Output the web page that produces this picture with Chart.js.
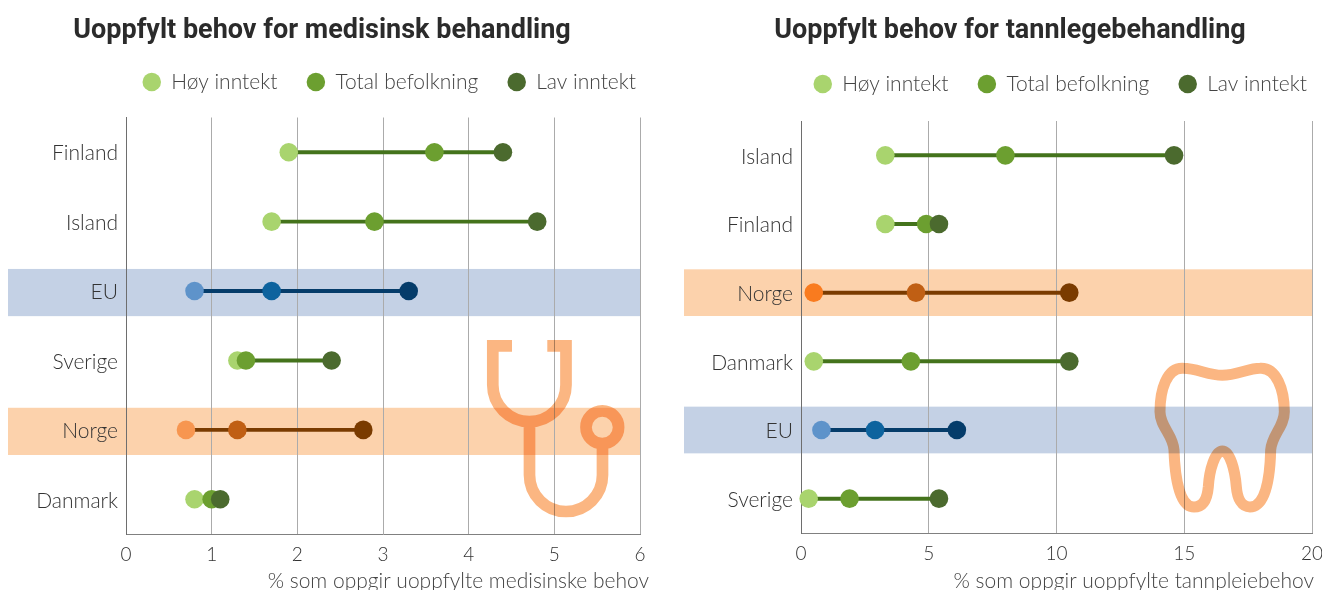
<!DOCTYPE html>
<html lang="no">
<head>
<meta charset="utf-8">
<title>Uoppfylt behov</title>
<script src="https://cdn.jsdelivr.net/npm/chart.js@4"></script>
<style>
html,body{margin:0;padding:0;background:#fff;width:1322px;height:590px;overflow:hidden}
canvas{position:absolute;top:0}
#medCanvas{left:0}
#tannCanvas{left:660px}
</style>
</head>
<body>
<canvas id="medCanvas" width="660" height="590"></canvas>
<canvas id="tannCanvas" width="662" height="590"></canvas>
<script>
// ---------- data ----------
const seriesNames = ['Høy inntekt', 'Total befolkning', 'Lav inntekt'];

const medTitle = 'Uoppfylt behov for medisinsk behandling';
const medAxisTitle = '% som oppgir uoppfylte medisinske behov';
const medCategories = ['Finland', 'Island', 'EU', 'Sverige', 'Norge', 'Danmark'];
const medHigh  = [1.9, 1.7, 0.8, 1.3, 0.7, 0.8];
const medTotal = [3.6, 2.9, 1.7, 1.4, 1.3, 1.0];
const medLow   = [4.4, 4.8, 3.3, 2.4, 2.77, 1.1];
const medTicks = [0, 1, 2, 3, 4, 5, 6];

const tannTitle = 'Uoppfylt behov for tannlegebehandling';
const tannAxisTitle = '% som oppgir uoppfylte tannpleiebehov';
const tannCategories = ['Island', 'Finland', 'Norge', 'Danmark', 'EU', 'Sverige'];
const tannHigh  = [3.3, 3.3, 0.5, 0.5, 0.8, 0.3];
const tannTotal = [8.0, 4.9, 4.5, 4.3, 2.9, 1.9];
const tannLow   = [14.6, 5.4, 10.5, 10.5, 6.1, 5.4];
const tannTicks = [0, 5, 10, 15, 20];

// ---------- styles ----------
const FONT = 'Lato, "Open Sans", sans-serif';
const TITLE_FONT = 'Roboto, "Open Sans", sans-serif';
const themes = {
  green:  {points: ['#A9D46E', '#6C9F30', '#4B6A2E'], line: '#44731C', band: null},
  blue:   {points: ['#5E93CA', '#0D639E', '#053C6A'], line: '#053C6A', band: '#C4D1E5'},
  orange: {points: ['#F79650', '#C05F14', '#7A3B00'], line: '#7A3B00', band: '#FCD2AC'},
  orangeStrong: {points: ['#F97B1F', '#C05F14', '#7A3B00'], line: '#7A3B00', band: '#FCD2AC'}
};
const legendColors = ['#A9D46E', '#6C9F30', '#3D6514'];
const ICON = '#FBB682';

const stethoscope = new Path2D(
  'M512 345.8 H492.8 V385 A36.6 36.6 0 0 0 566 385 V345.8 H547.3 ' +
  'M529.5 420 V475 A36.5 36.5 0 0 0 602.5 475 V443 ' +
  'M618.6 427.3 A16.3 16.3 0 1 1 586 427.3 A16.3 16.3 0 1 1 618.6 427.3 Z');
const tooth = new Path2D(
  'M307 106 C350 106 385 85 420 85 C470 82 493 150 493 215 C493 260 455 285 452 330 ' +
  'C450 420 435 501 390 501 C365 501 352 475 349 440 C345 390 330 333 307 333 ' +
  'C285 333 268 390 265 440 C262 475 250 501 222 501 C180 501 165 420 162 330 ' +
  'C160 285 120 260 120 215 C120 150 140 82 190 85 C230 85 265 106 307 106 Z');

function makeChart(id, cfg) {
  const themesByRow = cfg.rows.map(r => themes[r]);
  const series = [cfg.high, cfg.total, cfg.low];
  const pointSets = series.map((values, s) => ({
    type: 'line',
    label: seriesNames[s],
    data: values,
    showLine: false,
    clip: false,
    order: 3 - s,
    pointStyle: 'circle',
    pointRadius: 9.3,
    pointHoverRadius: 9.3,
    pointBorderWidth: 0,
    backgroundColor: legendColors[s],
    borderColor: legendColors[s],
    pointBackgroundColor: themesByRow.map(t => t.points[s])
  }));
  const connector = {
    type: 'bar',
    label: 'spenn',
    data: cfg.high.map((h, i) => [h, cfg.low[i]]),
    backgroundColor: themesByRow.map(t => t.line),
    barThickness: 3.3,
    order: 4
  };

  const plugin = {
    id: 'decor',
    afterLayout(chart) {
      chart.legend.top += cfg.legendShift;
      chart.legend.right += cfg.legendOver;
    },
    beforeDraw(chart) {
      const y = chart.scales.y, ctx = chart.ctx;
      const step = (y.bottom - y.top) / cfg.categories.length;
      ctx.save();
      themesByRow.forEach((t, i) => {
        if (!t.band) return;
        const c = y.getPixelForValue(i) + cfg.bandOffset;
        ctx.fillStyle = t.band;
        ctx.fillRect(cfg.bandLeft, c - step * 0.34, chart.chartArea.right + 1 - cfg.bandLeft, step * 0.68);
      });
      ctx.restore();
    },
    afterDraw(chart) {
      const ctx = chart.ctx;
      ctx.save();
      ctx.globalCompositeOperation = 'multiply';
      ctx.strokeStyle = ICON;
      cfg.drawIcon(ctx);
      ctx.restore();
    }
  };

  return new Chart(document.getElementById(id), {
    type: 'bar',
    data: {labels: cfg.categories, datasets: [...pointSets, connector]},
    plugins: [plugin],
    options: {
      indexAxis: 'y',
      responsive: false,
      animation: false,
      events: [],
      layout: {padding: {top: 0, left: cfg.padLeft, right: cfg.padRight, bottom: 0}},
      plugins: {
        tooltip: {enabled: false},
        title: {
          display: true,
          text: cfg.title,
          color: '#2B2B2B',
          font: {family: TITLE_FONT, size: 27, weight: '700', lineHeight: 1.2},
          padding: {top: 15.5, bottom: cfg.titleGap}
        },
        legend: {
          display: true,
          position: 'top',
          align: 'end',
          labels: {
            usePointStyle: true,
            boxHeight: 13.1,
            boxWidth: 18,
            padding: 29.5,
            color: '#444',
            font: {family: FONT, size: 21, weight: '300'},
            filter: item => item.text !== 'spenn',
            sort: (a, b) => a.datasetIndex - b.datasetIndex
          }
        }
      },
      scales: {
        x: {
          type: 'linear',
          min: cfg.ticks[0],
          max: cfg.ticks[cfg.ticks.length - 1],
          afterBuildTicks(s) { s.ticks = cfg.ticks.map(v => ({value: v})); },
          afterFit(s) {
            s.height = cfg.xHeight;
            s.paddingLeft = 0;
            s.paddingRight = 0;
            const draw = s.drawTitle;
            if (!s._shifted) {
              s._shifted = true;
              s.drawTitle = function () {
                const r = this.right;
                this.right = r + cfg.titleOver;
                draw.call(this);
                this.right = r;
              };
            }
          },
          grid: {display: true, color: '#ABABAB', lineWidth: 1, drawTicks: false},
          border: {display: true, color: '#808080', width: 1},
          ticks: {padding: 9, color: '#333', font: {family: FONT, size: 19, weight: '300'}, maxRotation: 0},
          title: {
            display: true,
            text: cfg.axisTitle,
            align: 'end',
            color: '#444',
            padding: {top: 0, bottom: -2},
            font: {family: FONT, size: 21, weight: '300', lineHeight: 1}
          }
        },
        y: {
          type: 'category',
          offset: true,
          afterFit(s) { s.width = cfg.yWidth; },
          grid: {display: false, drawTicks: false},
          border: {display: true, color: '#6E6E6E', width: 1},
          ticks: {padding: 8, labelOffset: 1.5, color: '#333', font: {family: FONT, size: 21, weight: '300'}, autoSkip: false}
        }
      }
    }
  });
}

makeChart('medCanvas', {
  title: medTitle, axisTitle: medAxisTitle, categories: medCategories,
  high: medHigh, total: medTotal, low: medLow, ticks: medTicks,
  rows: ['green', 'green', 'blue', 'green', 'orange', 'green'],
  padLeft: 4, padRight: 20, yWidth: 122, xHeight: 56, titleGap: 9.1, legendShift: -15, legendOver: 25.5,
  bandLeft: 8, bandOffset: 1.5, titleOver: 9,
  drawIcon(ctx) { ctx.lineWidth = 11.7; ctx.stroke(stethoscope); }
});

makeChart('tannCanvas', {
  title: tannTitle, axisTitle: tannAxisTitle, categories: tannCategories,
  high: tannHigh, total: tannTotal, low: tannLow, ticks: tannTicks,
  rows: ['green', 'green', 'orangeStrong', 'green', 'blue', 'green'],
  padLeft: 48, padRight: 10, yWidth: 93, xHeight: 57, titleGap: 12.6, legendShift: -16.5, legendOver: 24.5,
  bandLeft: 24, bandOffset: 0, titleOver: 2,
  drawIcon(ctx) {
    ctx.translate(1120 - 660, 340);
    ctx.scale(1 / 3, 1 / 3);
    ctx.lineWidth = 33;
    ctx.stroke(tooth);
  }
});
</script>
</body>
</html>
